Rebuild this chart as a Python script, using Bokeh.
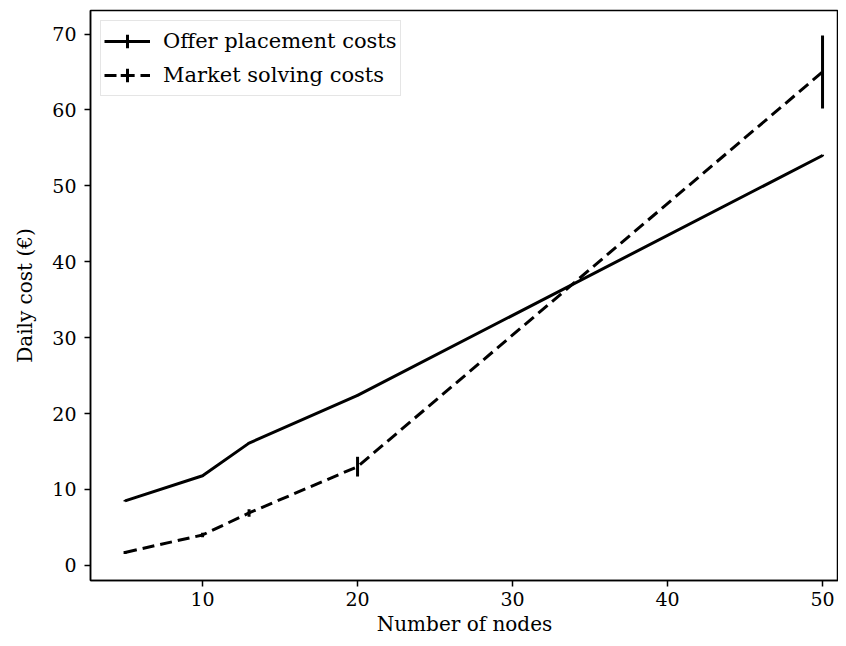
from bokeh.plotting import figure
from bokeh.models import Range1d, Legend, LegendItem, FixedTicker, ColumnDataSource
from bokeh.embed import file_html
from bokeh.resources import INLINE

nodes = [5, 10, 13, 20, 50]
offer_cost = [8.5, 11.8, 16.1, 22.4, 54.0]
offer_err = [0.1, 0.1, 0.1, 0.1, 0.1]
market_cost = [1.7, 4.0, 6.9, 13.0, 65.0]
market_err = [0.2, 0.3, 0.5, 1.3, 4.8]
x_ticks = [10, 20, 30, 40, 50]
y_ticks = [0, 10, 20, 30, 40, 50, 60, 70]

FONT = "DejaVu Serif"
FS = "19px"

p = figure(width=838, height=638, output_backend="svg", toolbar_location=None,
           x_range=Range1d(2.77, 51.03), y_range=Range1d(-2.0, 73.1),
           min_border_left=90, min_border_right=0, min_border_top=10, min_border_bottom=58)
p.grid.visible = False
p.outline_line_color = "black"
p.outline_line_width = 1.5

for ax in (p.xaxis[0], p.yaxis[0]):
    ax.axis_line_width = 1.5
    ax.major_tick_line_width = 1.5
    ax.major_tick_out = 6
    ax.major_tick_in = 0
    ax.minor_tick_line_color = None
    ax.major_label_text_font = FONT
    ax.major_label_text_font_size = FS
    ax.major_label_text_color = "black"
    ax.axis_label_text_font = FONT
    ax.axis_label_text_font_size = "20px"
    ax.axis_label_text_font_style = "normal"
    ax.axis_label_text_color = "black"

p.xaxis.ticker = FixedTicker(ticks=x_ticks)
p.yaxis.ticker = FixedTicker(ticks=y_ticks)
p.xaxis.axis_label = "Number of nodes"
p.yaxis.axis_label = "Daily cost (€)"
p.xaxis.major_label_standoff = 5
p.yaxis.major_label_standoff = 8
p.xaxis.axis_label_standoff = 3
p.yaxis.axis_label_standoff = 12

off_src = ColumnDataSource(dict(x=nodes, y=offer_cost,
                                lo=[v - e for v, e in zip(offer_cost, offer_err)],
                                hi=[v + e for v, e in zip(offer_cost, offer_err)]))
mk_src = ColumnDataSource(dict(x=nodes, y=market_cost,
                               lo=[v - e for v, e in zip(market_cost, market_err)],
                               hi=[v + e for v, e in zip(market_cost, market_err)]))

LW = 3
l1 = p.line("x", "y", source=off_src, line_color="black", line_width=LW)
p.segment(x0="x", y0="lo", x1="x", y1="hi", source=off_src, line_color="black", line_width=LW)
l2 = p.line("x", "y", source=mk_src, line_color="black", line_width=LW, line_dash="12 6")
p.segment(x0="x", y0="lo", x1="x", y1="hi", source=mk_src, line_color="black", line_width=LW)

# legend-only error-bar cross markers, placed outside the visible range
t1 = p.scatter(x=[-100], y=[-100], marker="cross", size=18,
               line_color="black", line_width=LW)
t2 = p.scatter(x=[-100], y=[-100], marker="cross", size=18,
               line_color="black", line_width=LW)

legend = Legend(items=[
    LegendItem(label="Offer placement costs", renderers=[l1, t1]),
    LegendItem(label="Market solving costs", renderers=[l2, t2]),
], location="top_left")
legend.label_text_font = FONT
legend.label_text_font_size = "21px"
legend.label_text_color = "black"
legend.glyph_width = 46
legend.glyph_height = 34
legend.label_standoff = 13
legend.spacing = 0
legend.padding = 3
legend.margin = 10
legend.border_line_color = "#cccccc"
legend.border_line_width = 1.5
legend.background_fill_alpha = 0.9
p.add_layout(legend)

open("out.html", "w").write(file_html(p, INLINE))
